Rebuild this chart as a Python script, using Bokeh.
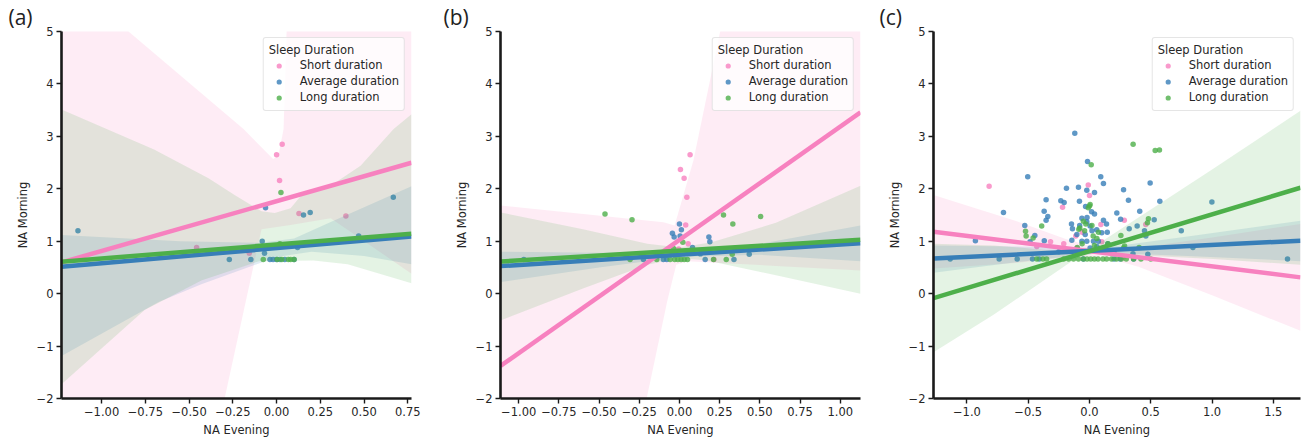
from bokeh.plotting import figure
from bokeh.layouts import row
from bokeh.models import Range1d, FixedTicker, Legend, LegendItem
from bokeh.embed import file_html
from bokeh.resources import INLINE

# ---------------- shared ----------------
groups = ["Short duration", "Average duration", "Long duration"]
colors = ["#f781bf", "#377eb8", "#4daf4a"]
y_ticks = [-2, -1, 0, 1, 2, 3, 4, 5]
y_tick_labels = ["−2", "−1", "0", "1", "2", "3", "4", "5"]

# ---------------- panel (a) ----------------
a_xrange = [-1.229, 0.771]
a_xticks = [-1.0, -0.75, -0.5, -0.25, 0.0, 0.25, 0.5, 0.75]
a_xtick_labels = ["−1.00", "−0.75", "−0.50", "−0.25", "0.00", "0.25", "0.50", "0.75"]

a_short_x = [0.0, 0.032, 0.017, 0.128, 0.396, -0.457, -0.156]
a_short_y = [2.65, 2.85, 2.16, 1.53, 1.48, 0.88, 0.77]
a_avg_x = [-1.135, 0.667, -0.063, 0.154, 0.192, -0.082, -0.069, -0.27, -0.147, -0.038,
           -0.02, 0.0, 0.02, 0.047, 0.10, 0.12, 0.371, 0.469]
a_avg_y = [1.20, 1.84, 1.64, 1.50, 1.55, 1.00, 0.77, 0.65, 0.65, 0.65,
           0.65, 0.65, 0.65, 0.65, 0.65, 0.88, 1.01, 1.10]
a_long_x = [0.025, -0.076, 0.004, 0.03, 0.067, 0.08, 0.10, 0.019]
a_long_y = [1.93, 0.65, 0.65, 0.65, 0.65, 0.65, 0.65, 0.95]

a_fit_short = [0.596, 2.497]
a_fit_avg = [0.515, 1.09]
a_fit_long = [0.61, 1.142]

a_short_hi_x = [-1.229, -0.846, -0.189, -0.02, 0.01, 0.04, 0.06, 0.771]
a_short_hi_y = [9.0, 5.0, 3.14, 2.57, 2.62, 3.14, 5.3, 12.0]
a_short_lo_x = [-1.229, -0.297, -0.086, 0.08, 0.309, 0.771]
a_short_lo_y = [-9.0, -2.0, 1.23, 1.31, 1.44, 0.38]
a_avg_hi_x = [-1.229, -0.55, -0.09, 0.1, 0.3, 0.5, 0.771]
a_avg_hi_y = [1.12, 1.0, 0.97, 1.05, 1.35, 1.65, 2.05]
a_avg_lo_x = [-1.229, -0.674, -0.43, -0.13, 0.0, 0.2, 0.5, 0.771]
a_avg_lo_y = [-1.19, -0.16, 0.18, 0.54, 0.70, 0.80, 0.72, 0.56]
a_long_hi_x = [-1.229, -0.7, -0.389, -0.24, -0.086, -0.011, 0.08, 0.137, 0.309, 0.48, 0.669, 0.771]
a_long_hi_y = [3.51, 2.75, 2.20, 1.88, 1.57, 1.54, 1.63, 1.86, 2.06, 2.44, 3.14, 3.42]
a_long_lo_x = [-1.229, -0.754, -0.43, -0.10, 0.211, 0.406, 0.771]
a_long_lo_y = [-1.73, -0.31, 0.25, 0.62, 0.63, 0.56, 0.20]

# ---------------- panel (b) ----------------
b_xrange = [-1.113, 1.126]
b_xticks = [-1.0, -0.75, -0.5, -0.25, 0.0, 0.25, 0.5, 0.75, 1.0]
b_xtick_labels = ["−1.00", "−0.75", "−0.50", "−0.25", "0.00", "0.25", "0.50", "0.75", "1.00"]

b_short_x = [0.066, 0.006, 0.029, 0.046, 0.039, 0.054, -0.005, 0.214]
b_short_y = [2.65, 2.37, 2.20, 1.84, 1.31, 0.95, 0.85, 0.65]
b_avg_x = [0.0, 0.012, -0.044, -0.033, 0.004, 0.183, 0.189, 0.081, 0.434, -0.968,
           -0.224, -0.10, -0.079, 0.16, 0.339, 1.026, 0.13]
b_avg_y = [1.33, 1.22, 1.15, 1.08, 1.10, 1.08, 0.99, 0.88, 0.75, 0.65,
           0.65, 0.65, 0.65, 0.65, 0.65, 0.96, 0.76]
b_long_x = [-0.463, -0.295, 0.274, 0.332, 0.505, 0.021, -0.037, 0.328, -0.307, -0.141,
            -0.058, -0.03, -0.01, 0.01, 0.03, 0.05, 0.212, 0.291]
b_long_y = [1.52, 1.41, 1.50, 1.33, 1.47, 0.98, 0.86, 0.75, 0.65, 0.65,
            0.65, 0.65, 0.65, 0.65, 0.65, 0.65, 0.65, 0.65]

b_fit_short = [-1.38, 3.46]
b_fit_avg = [0.525, 0.963]
b_fit_long = [0.614, 1.027]

b_short_hi_x = [-1.113, -0.1, -0.03, 0.087, 0.253, 1.126]
b_short_hi_y = [1.68, 1.36, 1.30, 2.54, 5.0, 15.0]
b_short_lo_x = [-1.113, -0.204, -0.075, -0.02, 0.05, 1.126]
b_short_lo_y = [-12.0, -2.0, -0.13, 0.55, 0.62, 0.44]
b_avg_hi_x = [-1.113, -0.5, 0.0, 0.5, 1.126]
b_avg_hi_y = [0.80, 0.78, 0.79, 0.95, 1.30]
b_avg_lo_x = [-1.113, -0.5, 0.0, 0.5, 1.126]
b_avg_lo_y = [0.22, 0.50, 0.70, 0.74, 0.62]
b_long_hi_x = [-1.113, -0.6, -0.2, 0.0, 0.2, 0.6, 1.126]
b_long_hi_y = [1.55, 1.23, 0.95, 0.88, 0.98, 1.35, 2.06]
b_long_lo_x = [-1.113, -0.6, -0.2, 0.0, 0.17, 0.6, 1.126]
b_long_lo_y = [-0.51, 0.10, 0.55, 0.68, 0.63, 0.35, 0.0]

# ---------------- panel (c) ----------------
c_xrange = [-1.273, 1.722]
c_xticks = [-1.0, -0.5, 0.0, 0.5, 1.0, 1.5]
c_xtick_labels = ["−1.0", "−0.5", "0.0", "0.5", "1.0", "1.5"]

c_short_x = [-0.819, -0.010, 0.0, -0.22, -0.318, -0.21, -0.112, 0.093, 0.284, 0.459,
             0.10, -0.103, 0.087, -0.43, 0.28, -0.06]
c_short_y = [2.05, 2.07, 1.87, 1.65, 0.99, 0.95, 1.10, 1.32, 1.40, 1.32,
             0.99, 0.87, 0.85, 0.90, 0.70, 1.17]
c_avg_x = [-0.12, -0.016, -0.504, 0.092, 0.114, 0.495, -0.188, -0.09, -0.022, 0.041,
           0.278, -0.354, -0.234, -0.207, -0.082, 0.318, 0.574, 0.999, -0.702, -0.370,
           -0.34, -0.354, -0.032, 0.017, 0.041, 0.223, 0.41, 0.528, 0.254, -0.528,
           -0.147, -0.139, 0.324, 0.389, 0.449, 0.460, 0.749, -0.931, -0.485, -0.369,
           -0.446, -1.137, -0.737, -0.59, -0.465, -0.41, 1.616, 0.36, 0.20, 0.25,
           -0.05, 0.476, 0.145, 0.114, 0.139, 0.355, 0.844, -0.062, -0.022, 0.005,
           0.059, 0.10, -0.062, -0.022, 0.032, 0.073, -0.035, 0.005, -0.144, -0.103,
           -0.02, 0.02, -0.08, 0.06, 0.2, -0.25, 0.15]
c_avg_y = [3.06, 2.52, 2.23, 2.23, 2.10, 2.11, 2.01, 2.03, 1.97, 1.93,
           1.98, 1.79, 1.77, 1.74, 1.76, 1.78, 1.76, 1.75, 1.55, 1.57,
           1.47, 1.40, 1.66, 1.56, 1.52, 1.54, 1.57, 1.41, 1.42, 1.30,
           1.33, 1.24, 1.24, 1.29, 1.20, 1.10, 1.20, 1.01, 0.99, 1.01,
           1.11, 0.66, 0.66, 0.66, 0.66, 0.66, 0.66, 0.66, 0.66, 0.66,
           0.66, 0.75, 1.17, 1.40, 1.33, 0.76, 0.88, 1.44, 1.37, 1.29,
           1.22, 1.16, 1.0, 1.0, 1.0, 1.0, 1.13, 0.87, 1.02, 1.13,
           1.45, 1.20, 1.30, 0.90, 0.80, 0.80, 0.95]
c_long_x = [0.356, 0.536, 0.571, 0.014, 0.0, -0.01, 0.005, -0.522, -0.517, -0.46,
            -0.39, -0.087, -0.079, 0.481, 0.473, 0.256, 0.073, 0.286, 0.278, 0.405,
            -0.05, -0.03, 0.02, -0.04, 0.03, 0.06, -0.06, 0.04, 0.09, 0.15,
            -0.1, -0.43, -0.38, -0.35, -0.21, -0.17, -0.13, -0.09, -0.05, -0.02,
            0.01, 0.04, 0.07, 0.11, 0.14, 0.18, 0.22, 0.26, 0.3, 0.36, 0.42, 0.5]
c_long_y = [2.85, 2.73, 2.74, 2.46, 1.67, 1.64, 1.70, 1.19, 1.10, 1.06,
            1.29, 1.23, 1.25, 1.43, 1.35, 1.11, 1.17, 0.91, 0.87, 0.88,
            1.38, 1.33, 1.30, 1.20, 1.10, 1.05, 0.95, 0.92, 0.85, 0.95,
            0.88, 0.66, 0.66, 0.66, 0.66, 0.66, 0.66, 0.66, 0.66, 0.66,
            0.66, 0.66, 0.66, 0.66, 0.66, 0.66, 0.66, 0.66, 0.66, 0.66, 0.66, 0.66]

c_fit_short = [1.18, 0.31]
c_fit_avg = [0.67, 1.01]
c_fit_long = [-0.085, 2.02]

c_short_band_x = [-1.273, -0.6, -0.2, 0.1, 0.4, 1.0, 1.722]
c_short_hi_y = [1.88, 1.385, 1.048, 0.849, 0.874, 1.07, 1.33]
c_short_lo_y = [0.48, 0.585, 0.688, 0.709, 0.514, -0.03, -0.71]
c_avg_band_x = [-1.273, -0.6, 0.1, 0.8, 1.722]
c_avg_hi_y = [0.92, 0.90, 0.87, 1.09, 1.39]
c_avg_lo_y = [0.40, 0.60, 0.78, 0.72, 0.62]
c_long_band_x = [-1.273, -0.78, -0.1, 0.05, 0.3, 1.01, 1.722]
c_long_hi_y = [0.95, 0.92, 0.78, 0.92, 1.30, 2.38, 3.49]
c_long_lo_y = [-1.12, -0.40, 0.69, 0.77, 0.74, 0.66, 0.55]

INK = "#262626"


def make_panel(label, width, ml, mr, mb, xr, xticks, xlabels, pts, fits, bands, title_offset):
    p = figure(width=width, height=441, x_range=Range1d(xr[0], xr[1]),
               y_range=Range1d(-2, 5), output_backend="svg", toolbar_location=None,
               min_border_left=ml, min_border_right=mr, min_border_top=31,
               min_border_bottom=mb, title=label)
    p.outline_line_color = None
    p.grid.visible = False
    p.background_fill_color = "white"
    p.border_fill_color = "white"

    p.title.align = "left"
    p.title.offset = title_offset
    p.title.standoff = 1
    p.title.text_font = "Open Sans"
    p.title.text_font_size = "21px"
    p.title.text_font_style = "normal"
    p.title.text_color = "#222222"

    scat = []
    for i in range(3):
        xs, ys = pts[i]
        r = p.scatter(xs, ys, size=5.5, fill_color=colors[i], fill_alpha=0.8,
                      line_color=None)
        scat.append(r)
        hx, hy, lx, ly = bands[i]
        p.patch(list(hx) + list(lx)[::-1], list(hy) + list(ly)[::-1],
                fill_color=colors[i], fill_alpha=0.15, line_color=None)
    for i in range(3):
        p.line(xr, fits[i], line_color=colors[i], line_width=4.5)

    p.xaxis.ticker = FixedTicker(ticks=xticks)
    p.xaxis.major_label_overrides = dict(zip(xticks, xlabels))
    p.yaxis.ticker = FixedTicker(ticks=y_ticks)
    p.yaxis.major_label_overrides = dict(zip(y_ticks, y_tick_labels))
    p.xaxis.axis_label = "NA Evening"
    p.yaxis.axis_label = "NA Morning"
    for ax in (p.xaxis[0], p.yaxis[0]):
        ax.axis_line_width = 2.6
        ax.axis_line_color = "#1a1a1a"
        ax.major_tick_line_width = 1.4
        ax.major_tick_line_color = "#1a1a1a"
        ax.major_tick_out = 5
        ax.major_tick_in = 0
        ax.minor_tick_line_color = None
        ax.major_label_text_font = "DejaVu Sans"
        ax.major_label_text_font_size = "11.5px"
        ax.major_label_text_color = INK
        ax.major_label_standoff = 3
        ax.axis_label_text_font = "DejaVu Sans"
        ax.axis_label_text_font_size = "11.5px"
        ax.axis_label_text_font_style = "normal"
        ax.axis_label_text_color = INK
        ax.axis_label_standoff = 4

    items = [LegendItem(label=groups[i], renderers=[scat[i]]) for i in range(3)]
    legend = Legend(items=items, title="Sleep Duration", location="top_right")
    legend.margin = 6
    legend.padding = 5
    legend.spacing = 0
    legend.label_height = 16
    legend.glyph_height = 13
    legend.glyph_width = 20
    legend.label_standoff = 11
    legend.title_standoff = 0
    legend.label_text_font = "DejaVu Sans"
    legend.label_text_font_size = "11.5px"
    legend.label_text_color = INK
    legend.title_text_font = "DejaVu Sans"
    legend.title_text_font_size = "11.5px"
    legend.title_text_font_style = "normal"
    legend.title_text_color = INK
    legend.border_line_color = "#cccccc"
    legend.border_line_width = 1.5
    legend.background_fill_color = "white"
    legend.background_fill_alpha = 0.8
    if "border_radius" in Legend.properties():
        legend.border_radius = 3
    p.add_layout(legend)
    return p


pa = make_panel("(a)", 433, 61, 22, 38, a_xrange, a_xticks, a_xtick_labels,
                [(a_short_x, a_short_y), (a_avg_x, a_avg_y), (a_long_x, a_long_y)],
                [a_fit_short, a_fit_avg, a_fit_long],
                [(a_short_hi_x, a_short_hi_y, a_short_lo_x, a_short_lo_y),
                 (a_avg_hi_x, a_avg_hi_y, a_avg_lo_x, a_avg_lo_y),
                 (a_long_hi_x, a_long_hi_y, a_long_lo_x, a_long_lo_y)], -53)

pb = make_panel("(b)", 433, 67, 6, 43, b_xrange, b_xticks, b_xtick_labels,
                [(b_short_x, b_short_y), (b_avg_x, b_avg_y), (b_long_x, b_long_y)],
                [b_fit_short, b_fit_avg, b_fit_long],
                [(b_short_hi_x, b_short_hi_y, b_short_lo_x, b_short_lo_y),
                 (b_avg_hi_x, b_avg_hi_y, b_avg_lo_x, b_avg_lo_y),
                 (b_long_hi_x, b_long_hi_y, b_long_lo_x, b_long_lo_y)], -57)

pc = make_panel("(c)", 440, 67, 6, 38, c_xrange, c_xticks, c_xtick_labels,
                [(c_short_x, c_short_y), (c_avg_x, c_avg_y), (c_long_x, c_long_y)],
                [c_fit_short, c_fit_avg, c_fit_long],
                [(c_short_band_x, c_short_hi_y, c_short_band_x, c_short_lo_y),
                 (c_avg_band_x, c_avg_hi_y, c_avg_band_x, c_avg_lo_y),
                 (c_long_band_x, c_long_hi_y, c_long_band_x, c_long_lo_y)], -54)

layout = row(pa, pb, pc)
open("out.html", "w").write(file_html(layout, INLINE))
